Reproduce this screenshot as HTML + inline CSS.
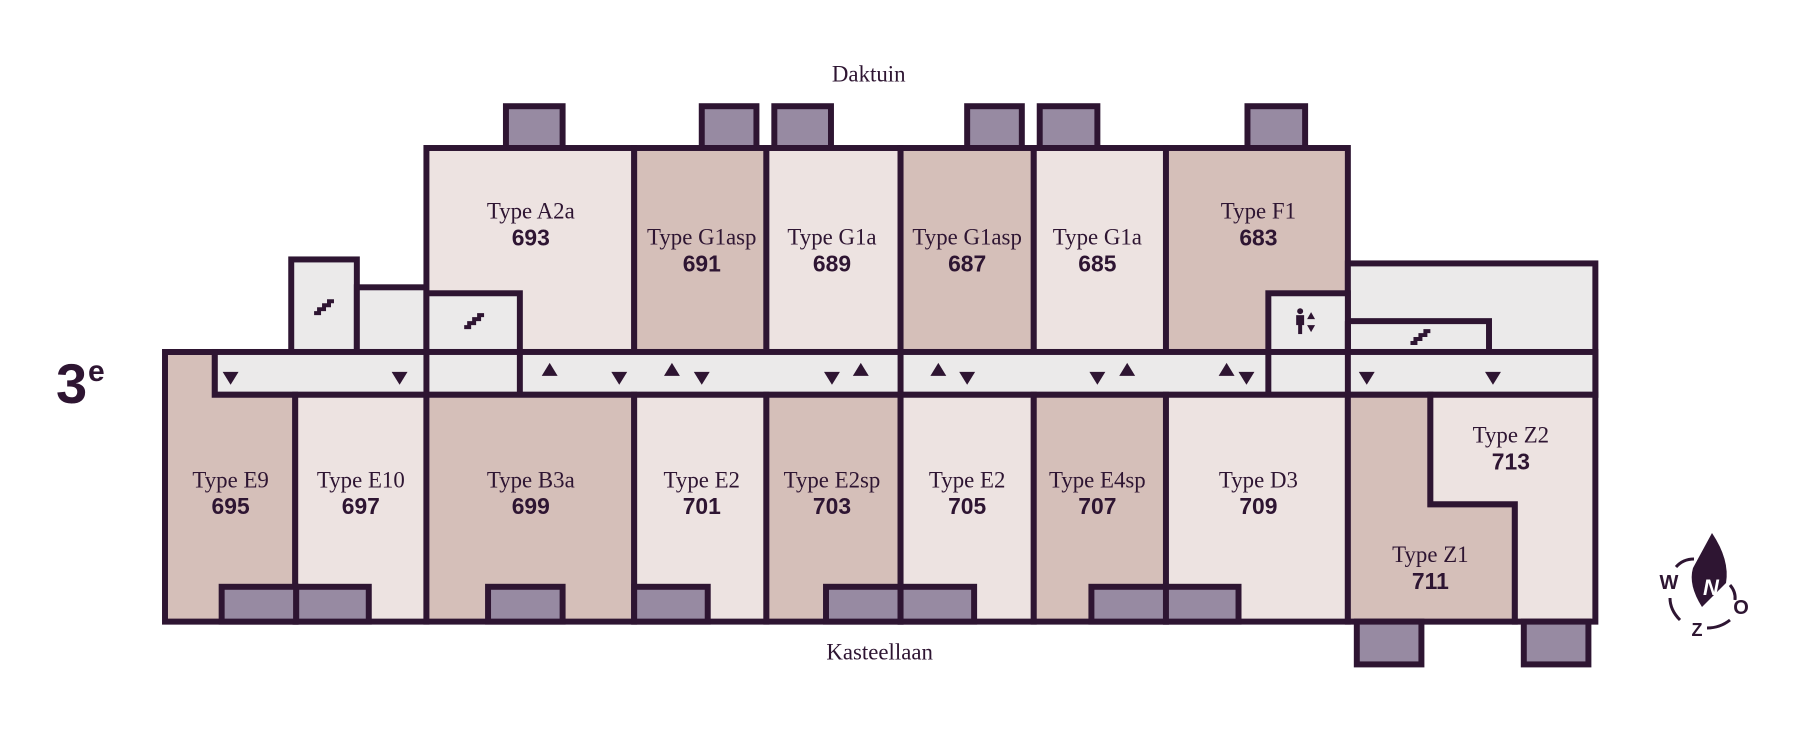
<!DOCTYPE html>
<html><head><meta charset="utf-8"><style>
html,body{margin:0;padding:0;background:#fff;}
svg{display:block;}
.t{font-family:"Liberation Serif","DejaVu Serif",serif;font-size:23px;fill:#2e1532;text-anchor:middle;}
.n{font-family:"Liberation Sans","DejaVu Sans",sans-serif;font-weight:bold;font-size:23px;fill:#2e1532;text-anchor:middle;}
.s{stroke:#2e1532;stroke-width:6;stroke-linejoin:miter;}
</style></head><body>
<svg width="1800" height="737" viewBox="0 0 1800 737" xmlns="http://www.w3.org/2000/svg">
<g transform="translate(165,148) scale(0.994,0.995) translate(-165,-148)">
<g class="s">
<rect x="292" y="260" width="66" height="93" fill="#ebeaea"/>
<rect x="358" y="288" width="70" height="65" fill="#ebeaea"/>
<rect x="508" y="106" width="57" height="42" fill="#978aa2"/>
<rect x="705" y="106" width="55" height="42" fill="#978aa2"/>
<rect x="778" y="106" width="57" height="42" fill="#978aa2"/>
<rect x="972" y="106" width="55" height="42" fill="#978aa2"/>
<rect x="1045" y="106" width="58" height="42" fill="#978aa2"/>
<rect x="1254" y="106" width="58" height="42" fill="#978aa2"/>
<rect x="428" y="148" width="209" height="205" fill="#ede3e1"/>
<rect x="637" y="148" width="133" height="205" fill="#d5bfb9"/>
<rect x="770" y="148" width="135" height="205" fill="#ede3e1"/>
<rect x="905" y="148" width="134" height="205" fill="#d5bfb9"/>
<rect x="1039" y="148" width="133" height="205" fill="#ede3e1"/>
<rect x="1172" y="148" width="183" height="205" fill="#d5bfb9"/>
<rect x="428" y="294" width="94" height="59" fill="#ebeaea"/>
<rect x="1355" y="264" width="249" height="132" fill="#ebeaea"/>
<rect x="1355" y="322" width="142" height="31" fill="#ebeaea"/>
<rect x="1275" y="294" width="80" height="102" fill="#ebeaea"/>
<rect x="215" y="353" width="1389" height="43" fill="#ebeaea"/>
<line x1="428" y1="353" x2="428" y2="396"/>
<line x1="522" y1="353" x2="522" y2="396"/>
<line x1="905" y1="353" x2="905" y2="396"/>
<line x1="1275" y1="353" x2="1275" y2="396"/>
<line x1="1355" y1="353" x2="1355" y2="396"/>
<line x1="1355" y1="322" x2="1355" y2="353"/>
<polygon points="165,353 215,353 215,396 296,396 296,624 165,624" fill="#d5bfb9"/>
<rect x="296" y="396" width="132" height="228" fill="#ede3e1"/>
<rect x="428" y="396" width="209" height="228" fill="#d5bfb9"/>
<rect x="637" y="396" width="133" height="228" fill="#ede3e1"/>
<rect x="770" y="396" width="135" height="228" fill="#d5bfb9"/>
<rect x="905" y="396" width="134" height="228" fill="#ede3e1"/>
<rect x="1039" y="396" width="133" height="228" fill="#d5bfb9"/>
<rect x="1172" y="396" width="183" height="228" fill="#ede3e1"/>
<polygon points="1355,396 1438,396 1438,506 1523,506 1523,624 1355,624" fill="#d5bfb9"/>
<polygon points="1438,396 1604,396 1604,624 1523,624 1523,506 1438,506" fill="#ede3e1"/>
<rect x="222" y="589" width="75" height="35" fill="#978aa2"/>
<rect x="297" y="589" width="73" height="35" fill="#978aa2"/>
<rect x="490" y="589" width="75" height="35" fill="#978aa2"/>
<rect x="637" y="589" width="74" height="35" fill="#978aa2"/>
<rect x="830" y="589" width="75" height="35" fill="#978aa2"/>
<rect x="905" y="589" width="74" height="35" fill="#978aa2"/>
<rect x="1097" y="589" width="75" height="35" fill="#978aa2"/>
<rect x="1172" y="589" width="73" height="35" fill="#978aa2"/>
<rect x="1364" y="624" width="65" height="43" fill="#978aa2"/>
<rect x="1532" y="624" width="65" height="43" fill="#978aa2"/>
</g>
<g fill="none" stroke="#2e1532" stroke-width="4">
<path d="M315,314 h5 v-4 h5 v-4 h5 v-4 h5"/>
<path d="M466,328 h5 v-4 h5 v-4 h5 v-4 h5"/>
<path d="M1418,344 h5 v-4 h5 v-4 h5 v-4 h5"/>
</g>
<g fill="#2e1532">
<circle cx="1307" cy="312" r="3"/>
<rect x="1303" y="316" width="8" height="10"/>
<rect x="1305" y="325" width="4" height="10"/>
<polygon points="1314,320 1322,320 1318,313"/>
<polygon points="1314,326 1322,326 1318,333"/>
</g>
<g fill="#2e1532">
<polygon points="223,373 239,373 231,386"/>
<polygon points="393,373 409,373 401,386"/>
<polygon points="544,377 560,377 552,364"/>
<polygon points="614,373 630,373 622,386"/>
<polygon points="667,377 683,377 675,364"/>
<polygon points="697,373 713,373 705,386"/>
<polygon points="828,373 844,373 836,386"/>
<polygon points="857,377 873,377 865,364"/>
<polygon points="935,377 951,377 943,364"/>
<polygon points="964,373 980,373 972,386"/>
<polygon points="1095,373 1111,373 1103,386"/>
<polygon points="1125,377 1141,377 1133,364"/>
<polygon points="1225,377 1241,377 1233,364"/>
<polygon points="1245,373 1261,373 1253,386"/>
<polygon points="1366,373 1382,373 1374,386"/>
<polygon points="1493,373 1509,373 1501,386"/>
</g>
<text class="t" x="533" y="219">Type A2a</text><text class="n" x="533" y="246">693</text>
<text class="t" x="705" y="245">Type G1asp</text><text class="n" x="705" y="272">691</text>
<text class="t" x="836" y="245">Type G1a</text><text class="n" x="836" y="272">689</text>
<text class="t" x="972" y="245">Type G1asp</text><text class="n" x="972" y="272">687</text>
<text class="t" x="1103" y="245">Type G1a</text><text class="n" x="1103" y="272">685</text>
<text class="t" x="1265" y="219">Type F1</text><text class="n" x="1265" y="246">683</text>
<text class="t" x="231" y="489">Type E9</text><text class="n" x="231" y="516">695</text>
<text class="t" x="362" y="489">Type E10</text><text class="n" x="362" y="516">697</text>
<text class="t" x="533" y="489">Type B3a</text><text class="n" x="533" y="516">699</text>
<text class="t" x="705" y="489">Type E2</text><text class="n" x="705" y="516">701</text>
<text class="t" x="836" y="489">Type E2sp</text><text class="n" x="836" y="516">703</text>
<text class="t" x="972" y="489">Type E2</text><text class="n" x="972" y="516">705</text>
<text class="t" x="1103" y="489">Type E4sp</text><text class="n" x="1103" y="516">707</text>
<text class="t" x="1265" y="489">Type D3</text><text class="n" x="1265" y="516">709</text>
<text class="t" x="1519" y="444">Type Z2</text><text class="n" x="1519" y="471">713</text>
<text class="t" x="1438" y="564">Type Z1</text><text class="n" x="1438" y="591">711</text>
<text class="t" x="873" y="81">Daktuin</text>
<text class="t" x="884" y="662">Kasteellaan</text>
</g>
<text x="56" y="403" font-family="Liberation Sans,sans-serif" font-weight="bold" font-size="56" fill="#2e1532">3</text>
<text x="88" y="381" font-family="Liberation Sans,sans-serif" font-weight="bold" font-size="30" fill="#2e1532">e</text>
<g fill="#2e1532" stroke="#2e1532">
<path d="M1712,533 Q1730,560 1726,583 L1702,607 Q1688,585 1693,568 Z" stroke="none"/>
<text x="1711" y="595" font-family="Liberation Sans,sans-serif" font-style="italic" font-weight="bold" font-size="22" fill="#fff" stroke="none" text-anchor="middle">N</text>
<text x="1669" y="589" font-family="Liberation Sans,sans-serif" font-weight="bold" font-size="20" stroke="none" text-anchor="middle">W</text>
<text x="1741" y="614" font-family="Liberation Sans,sans-serif" font-weight="bold" font-size="20" stroke="none" text-anchor="middle">O</text>
<text x="1697" y="636" font-family="Liberation Sans,sans-serif" font-weight="bold" font-size="18" stroke="none" text-anchor="middle">Z</text>
<path d="M1676,567 Q1683,559 1694,559" fill="none" stroke-width="3"/>
<path d="M1730,585 Q1736,592 1735,600" fill="none" stroke-width="3"/>
<path d="M1670,598 Q1670,610 1680,620" fill="none" stroke-width="3"/>
<path d="M1707,628 Q1720,628 1730,620" fill="none" stroke-width="3"/>
</g>
</svg>
</body></html>
